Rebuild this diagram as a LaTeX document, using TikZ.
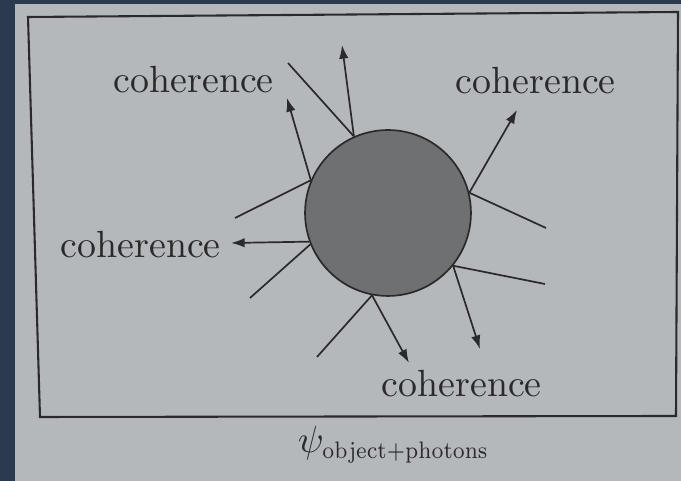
\documentclass[tikz,border=0pt]{standalone}
\usepackage{graphicx}
\usetikzlibrary{arrows.meta}
\definecolor{bgdark}{RGB}{44,58,80}
\definecolor{paper}{RGB}{180,184,187}
\definecolor{ball}{RGB}{110,112,114}
\definecolor{ink}{RGB}{42,42,44}
\tikzset{
  ray/.style={draw=ink, line width=0.45pt},
  arrowray/.style={ray, -{Latex[length=3.6pt,width=2.5pt]}},
  lbl/.style={anchor=base west, inner sep=0pt, text=ink},
}
\begin{document}
\begin{tikzpicture}[x=0.264pt, y=-0.264pt]
\useasboundingbox (0,0) rectangle (681,481);
\fill[bgdark] (0,0) rectangle (681,481);
\fill[paper] (15,4) rectangle (681,481);
% frame
\draw[ink, line width=0.55pt] (28,17) -- (678,12) -- (676,416) -- (40,417) -- cycle;
% object
\node[circle, draw=ink, fill=ball, line width=0.45pt, minimum size=43.8pt, inner sep=0pt] (obj) at (388,213) {};
% free ends
\coordinate (e1) at (288,63);
\coordinate (e2) at (342,45);
\coordinate (e3) at (287,98);
\coordinate (e4) at (235,218);
\coordinate (e5) at (231,243);
\coordinate (e6) at (250,298);
\coordinate (e7) at (517,110);
\coordinate (e8) at (546,228);
\coordinate (e9) at (545,284);
\coordinate (e10) at (480,349);
\coordinate (e11) at (317,357);
\coordinate (e12) at (409,363);
% rays
\draw[ray] (obj.114) -- (e1);
\draw[arrowray] (obj.114) -- (e2);
\draw[arrowray] (obj.157) -- (e3);
\draw[ray] (obj.157) -- (e4);
\draw[arrowray] (obj.200) -- (e5);
\draw[ray] (obj.202) -- (e6);
\draw[arrowray] (obj.14) -- (e7);
\draw[ray] (obj.14) -- (e8);
\draw[ray] (obj.321) -- (e9);
\draw[arrowray] (obj.321) -- (e10);
\draw[ray] (obj.259) -- (e11);
\draw[arrowray] (obj.259) -- (e12);
% labels
\node[lbl] (ctl) at (113,93) {coherence};
\node[lbl] (ctr) at (455,94) {coherence};
\node[lbl] (cl) at (60,258) {coherence};
\node[lbl] (cb) at (381,397) {coherence};
\node[lbl] (cap) at (297,453) {$\psi_{\scalebox{0.79}[0.9]{$\scriptstyle\mathrm{object+photons}$}}$};
\end{tikzpicture}
\end{document}
